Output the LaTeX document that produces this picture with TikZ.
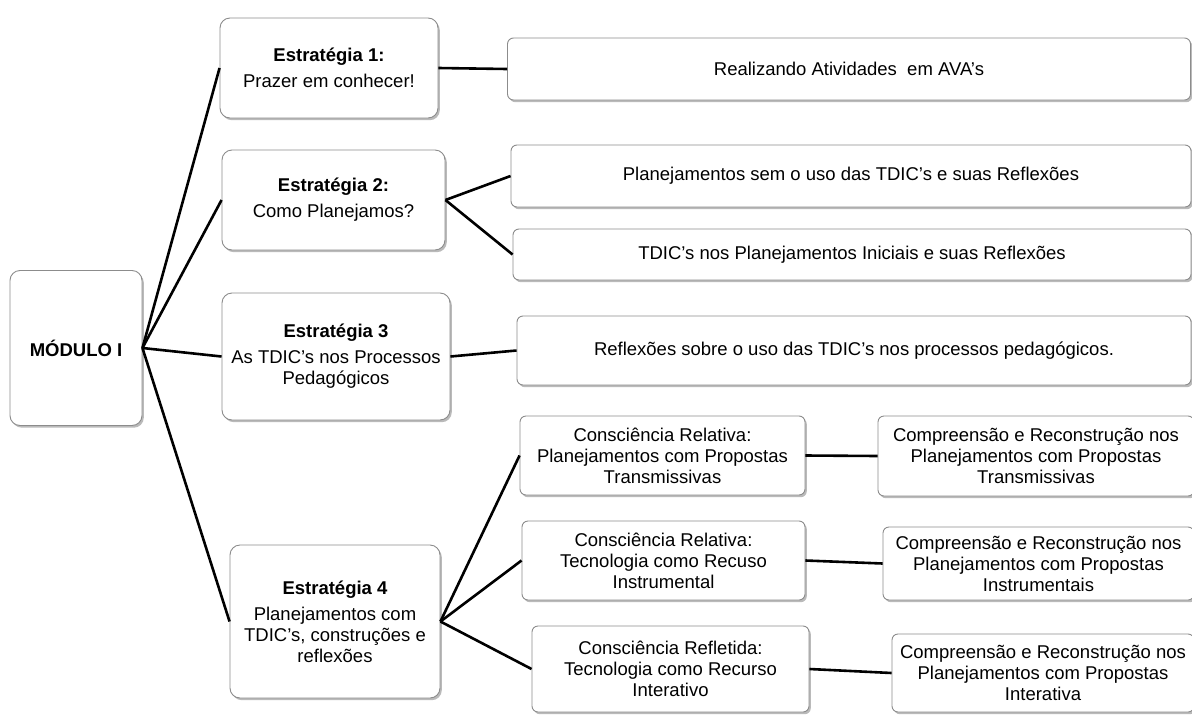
\documentclass[tikz,border=0pt]{standalone}
\usepackage{fontspec}
\setmainfont{Liberation Sans}
\usepackage{tikz}
\usetikzlibrary{shadows}

\tikzset{
  box/.style={draw=black!45, line width=0.9pt, fill=white, rounded corners=10pt,
    drop shadow={shadow xshift=1.8pt, shadow yshift=-2.2pt, opacity=0.45, fill=black!60},
    align=center, inner sep=2pt, font=\fontsize{18.5}{21}\selectfont},
  smallbox/.style={box, rounded corners=6pt},
  link/.style={line width=2.6pt, black}
}

\begin{document}
\begin{tikzpicture}[x=1pt,y=1pt,yscale=-1,xscale=1]
\useasboundingbox (0,0) rectangle (1192,718);
\clip (0,0) rectangle (1192,718);
\fill[white] (0,0) rectangle (1192,718);

%Shape: Rounded Rect [id:modulo]
\node (modulo) [box, minimum width=132pt, minimum height=155pt] at (76,348) {\textbf{MÓDULO I}};

%Shape: Rounded Rect [id:estrategias]
\node (e1) [box, minimum width=218pt, minimum height=100pt] at (329,68) {\textbf{Estratégia 1:}\\[5pt]Prazer em conhecer!};
\node (e2) [box, minimum width=223pt, minimum height=100pt] at (333.5,200) {\textbf{Estratégia 2:}\\[5pt]Como Planejamos?};
\node (e3) [box, minimum width=228pt, minimum height=127pt] at (336,356.5) {\textbf{Estratégia 3}\\[5pt]As TDIC's nos Processos\\Pedagógicos};
\node (e4) [box, minimum width=210pt, minimum height=153pt] at (335,621.5) {\textbf{Estratégia 4}\\[5pt]Planejamentos com\\TDIC's, construções e\\reflexões};

%Shape: Rounded Rect [id:atividades]
\node (r1) [smallbox, minimum width=683pt, minimum height=62pt] at (849,69) {Realizando Atividades\ \ em AVA's};
\node (r2) [smallbox, minimum width=680pt, minimum height=62pt] at (851,176) {Planejamentos sem o uso das TDIC's e suas Reflexões};
\node (r3) [smallbox, minimum width=678pt, minimum height=51pt] at (852,254.5) {TDIC's nos Planejamentos Iniciais e suas Reflexões};
\node (r4) [smallbox, minimum width=674pt, minimum height=69pt] at (854,350.5) {Reflexões sobre o uso das TDIC's nos processos pedagógicos.};

%Shape: Rounded Rect [id:consciencia]
\node (c1) [smallbox, minimum width=285pt, minimum height=79pt] at (662.5,455.5) {Consciência Relativa:\\Planejamentos com Propostas\\Transmissivas};
\node (c2) [smallbox, minimum width=283pt, minimum height=79pt] at (663.5,560.5) {Consciência Relativa:\\Tecnologia como Recuso\\Instrumental};
\node (c3) [smallbox, minimum width=277pt, minimum height=86pt] at (670.5,669) {Consciência Refletida:\\Tecnologia como Recurso\\Interativo};

%Shape: Rounded Rect [id:compreensao]
\node (p1) [smallbox, minimum width=316pt, minimum height=80pt] at (1036,456) {Compreensão e Reconstrução nos\\Planejamentos com Propostas\\Transmissivas};
\node (p2) [smallbox, minimum width=311pt, minimum height=73pt] at (1038.5,563.5) {Compreensão e Reconstrução nos\\Planejamentos com Propostas\\Instrumentais};
\node (p3) [smallbox, minimum width=302pt, minimum height=78pt] at (1043,673) {Compreensão e Reconstrução nos\\Planejamentos com Propostas\\Interativa};

%Straight Lines
\foreach \e in {e1,e2,e3,e4}
  \draw[link] (modulo.east) -- (\e.west);
\draw[link] (e1.east) -- (r1.west);
\draw[link] (e2.east) -- (r2.west);
\draw[link] (e2.east) -- (r3.west);
\draw[link] (e3.east) -- (r4.west);
\foreach \c in {c1,c2,c3}
  \draw[link] (e4.east) -- (\c.west);
\draw[link] (c1.east) -- (p1.west);
\draw[link] (c2.east) -- (p2.west);
\draw[link] (c3.east) -- (p3.west);

\end{tikzpicture}
\end{document}
